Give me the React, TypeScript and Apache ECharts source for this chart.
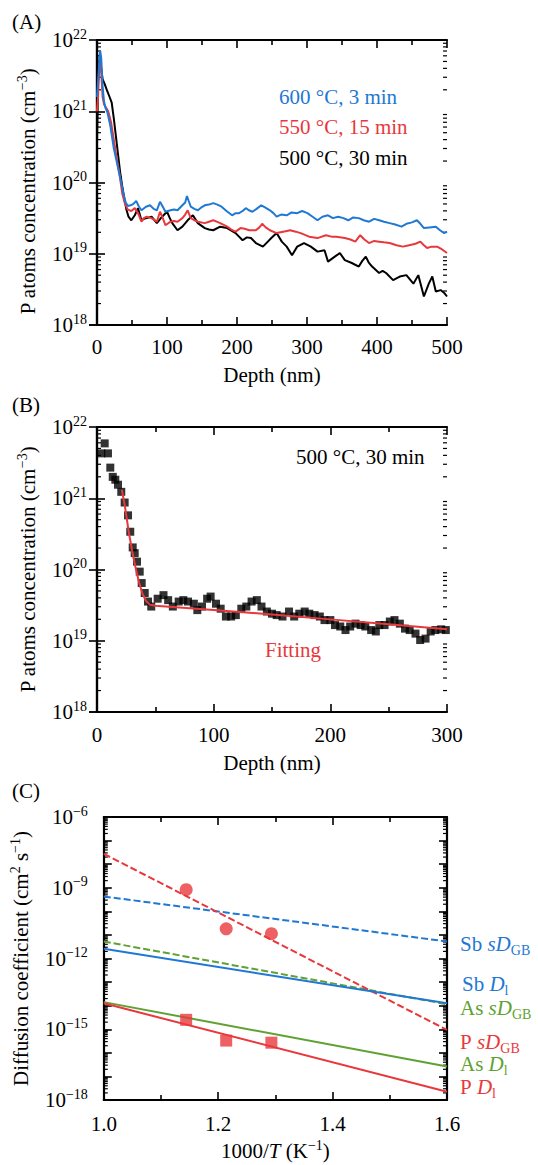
import React, { useEffect, useRef } from 'react';
import * as echarts from 'echarts';

const FONT = 'Liberation Serif';
const BLUE = '#1f78d4';
const RED = '#e8383c';
const GREEN = '#5fa132';

// ---------- Panel A : [depth (nm), log10 concentration (cm^-3)] ----------
const a600: number[][] = [
  [0, 21.2], [2, 21.5], [4.5, 21.85], [6, 21.75], [8, 21.35], [10, 21.14], [12, 21.05], [15, 20.98],
  [19, 20.8], [24, 20.48], [28, 20.3], [31, 20.16], [35, 19.98], [38, 19.83], [41, 19.72], [44, 19.67],
  [48, 19.68], [52, 19.7], [56, 19.74], [60, 19.66], [63.5, 19.61], [70, 19.66], [75.8, 19.68], [81, 19.63],
  [85.5, 19.61], [90, 19.73], [94, 19.66], [97.8, 19.59], [105, 19.61], [110, 19.62], [115, 19.61], [122, 19.68],
  [126, 19.72], [128.5, 19.81], [131, 19.74], [134, 19.66], [139, 19.63], [144, 19.61], [149, 19.65], [154, 19.68],
  [160, 19.69], [166, 19.71], [172, 19.69], [178, 19.66], [185, 19.6], [193, 19.54], [198, 19.57], [203, 19.57],
  [208, 19.6], [212.6, 19.64], [217, 19.61], [222, 19.59], [228, 19.63], [234.6, 19.68], [240, 19.65], [247, 19.61],
  [252, 19.57], [256.6, 19.52], [263, 19.55], [271, 19.54], [278, 19.58], [286, 19.57], [293, 19.6], [300.6, 19.57],
  [308, 19.52], [315, 19.47], [322, 19.52], [330, 19.54], [337, 19.5], [344.6, 19.52], [352, 19.5], [359, 19.47],
  [366, 19.51], [374, 19.5], [381, 19.47], [388.6, 19.45], [396, 19.49], [403, 19.47], [410, 19.45], [418, 19.43],
  [426, 19.41], [435, 19.38], [442, 19.42], [450, 19.44], [457, 19.47], [462, 19.42], [467, 19.36], [475, 19.37],
  [484, 19.38], [490, 19.33], [496, 19.29], [500, 19.31],
];

const a550: number[][] = [
  [0, 21.0], [1.5, 21.2], [3, 21.55], [4.5, 21.8], [6, 21.55], [8, 21.2], [10, 21.1], [13, 21.05], [16, 21.0],
  [20, 20.85], [24, 20.6], [28, 20.35], [32, 20.13], [36, 19.85], [40, 19.7], [44, 19.62], [49, 19.6],
  [54, 19.64], [58.6, 19.57], [63.5, 19.45], [67, 19.5], [71, 19.52], [78, 19.5], [85.5, 19.45], [90, 19.59],
  [94, 19.5], [97.8, 19.4], [105, 19.45], [110, 19.46], [115, 19.45], [122, 19.5], [126, 19.55], [129.5, 19.61],
  [134, 19.5], [139, 19.47], [144, 19.45], [154, 19.43], [160, 19.45], [166, 19.47], [171, 19.45], [176, 19.43],
  [186, 19.38], [192, 19.34], [198, 19.31], [205, 19.36], [211, 19.35], [217.5, 19.33], [227, 19.33], [232, 19.37],
  [236, 19.42], [241, 19.37], [247, 19.33], [256.6, 19.29], [266, 19.31], [276, 19.33], [284, 19.31], [291, 19.29],
  [303, 19.24], [315, 19.22], [327, 19.26], [335, 19.24], [342, 19.24], [354, 19.22], [362, 19.2], [369, 19.17],
  [376, 19.26], [382, 19.2], [388.6, 19.15], [396, 19.18], [403, 19.17], [410, 19.16], [418, 19.15], [428, 19.12],
  [437, 19.1], [446, 19.12], [455, 19.14], [462, 19.17], [467, 19.12], [471.6, 19.08], [478, 19.1], [486, 19.1],
  [493, 19.06], [500, 19.01],
];

const a500: number[][] = [
  [0, 20.55], [1.5, 21.4], [4, 21.8], [6, 21.6], [8, 21.45], [11, 21.38], [14, 21.3], [18, 21.2], [21, 21.12],
  [24, 20.9], [27, 20.65], [30, 20.4], [33, 20.15], [36, 19.95], [39, 19.78], [42, 19.62], [45, 19.52], [49, 19.47],
  [54, 19.54], [58.6, 19.64], [63.5, 19.47], [67, 19.49], [71, 19.5], [78, 19.52], [85.5, 19.43], [93, 19.52],
  [100, 19.59], [104, 19.5], [107.5, 19.43], [115, 19.33], [122, 19.38], [129.5, 19.47], [137, 19.54], [144, 19.43],
  [154, 19.36], [160, 19.34], [166, 19.33], [176, 19.38], [186, 19.36], [198, 19.29], [208, 19.19], [214, 19.23],
  [220, 19.22], [227, 19.15], [237, 19.1], [243, 19.16], [249, 19.22], [256.6, 19.29], [264, 19.17], [271, 19.1],
  [278.6, 18.98], [286, 19.1], [295.7, 19.15], [305.5, 19.1], [315, 19.03], [325, 19.05], [330, 18.89], [339.7, 18.96],
  [347, 19.01], [354, 18.91], [364, 18.87], [374, 18.82], [379, 18.9], [384, 18.96], [388, 18.88], [393, 18.82],
  [403, 18.73], [408, 18.76], [413, 18.73], [423, 18.63], [432.5, 18.68], [442, 18.7], [447, 18.64], [452, 18.58],
  [459, 18.7], [463, 18.55], [467, 18.4], [474, 18.58], [479, 18.68], [484, 18.47], [491, 18.49], [496, 18.45],
  [500, 18.4],
];

const labelsA = ['600 °C, 3 min', '550 °C, 15 min', '500 °C, 30 min'];

// ---------- Panel B : [depth (nm), log10 concentration] ----------
const b500: number[][] = [
  [3.7, 21.63], [6.6, 21.77], [9.4, 21.63], [11.4, 21.43], [13.5, 21.3], [15.7, 21.26], [18.0, 21.19],
  [20.8, 21.09], [23.7, 20.94], [26.6, 20.76], [28.5, 20.53], [30.6, 20.31], [32.3, 20.23], [34.3, 20.11],
  [36.6, 19.97], [38.3, 19.81], [40.9, 19.67], [43.7, 19.55], [46.5, 19.48], [52, 19.59], [57, 19.64],
  [61, 19.57], [65, 19.48], [70, 19.55], [74, 19.57], [78, 19.55], [83, 19.52], [86, 19.43], [90, 19.48],
  [94.4, 19.59], [97.4, 19.62], [102, 19.52], [106, 19.45], [110.5, 19.34], [115, 19.34], [119, 19.36],
  [123.7, 19.45], [128, 19.48], [132.5, 19.55], [137, 19.57], [141, 19.48], [145.6, 19.41], [150, 19.38],
  [154, 19.36], [159, 19.34], [164.6, 19.41], [169, 19.34], [173.4, 19.38], [178, 19.41], [182, 19.38],
  [186.5, 19.36], [191, 19.34], [195, 19.29], [200, 19.29], [204, 19.22], [208.5, 19.2], [213, 19.15],
  [217, 19.2], [221.6, 19.24], [226, 19.22], [230, 19.2], [235, 19.15], [239, 19.13], [242, 19.22],
  [246.5, 19.22], [251, 19.27], [255, 19.29], [259.6, 19.24], [264, 19.17], [268, 19.15], [273, 19.1],
  [277, 19.01], [281.6, 19.03], [286, 19.13], [290, 19.15], [295, 19.16], [299, 19.15],
];

const bFit: number[][] = [
  [21.3, 21.12], [24, 20.88], [27, 20.55], [30, 20.27], [33, 20.03], [36, 19.82], [39, 19.66], [42, 19.56],
  [45, 19.51], [50, 19.49], [100, 19.43], [150, 19.37], [200, 19.3], [250, 19.23], [300, 19.16],
];

// ---------- Panel C : [1000/T, log10 D (cm^2 s^-1)] ----------
const cPsDGB: number[][] = [[1.0, -7.56], [1.6, -15.03]];
const cSbsDGB: number[][] = [[1.0, -9.37], [1.6, -11.28]];
const cAssDGB: number[][] = [[1.0, -11.28], [1.6, -13.94]];
const cSbDl: number[][] = [[1.0, -11.59], [1.6, -13.9]];
const cAsDl: number[][] = [[1.0, -13.85], [1.6, -16.58]];
const cPDl: number[][] = [[1.0, -13.9], [1.6, -17.65]];
const cPsDGBPts: number[][] = [[1.144, -9.08], [1.214, -10.74], [1.293, -10.95]];
const cPDlPts: number[][] = [[1.144, -14.6], [1.214, -15.48], [1.293, -15.57]];

const toVal = (arr: number[][]) => arr.map(([x, l]) => [x, Math.pow(10, l)]);

const GRIDS = [
  { left: 97, top: 40, width: 350, height: 285 },
  { left: 97, top: 427, width: 350, height: 285 },
  { left: 97, top: 817, width: 350, height: 283 },
];

const supRich = {
  b: { fontSize: 21, fontFamily: FONT, color: '#000', lineHeight: 26 },
  s: { fontSize: 14, fontFamily: FONT, color: '#000', lineHeight: 14, verticalAlign: 'top' },
  i: { fontSize: 21, fontFamily: FONT, color: '#000', fontStyle: 'italic', lineHeight: 26 },
};

function expLabel(e: number) {
  const es = e < 0 ? '−' + Math.abs(e) : String(e);
  return '{b|10}{s|' + es + '}';
}

function minorTicksLog(xmin: number, xmax: number, e0: number, e1: number) {
  const out: number[][] = [];
  for (let e = e0; e < e1; e++) {
    for (let m = 2; m <= 9; m++) {
      const v = m * Math.pow(10, e);
      out.push([xmin, v, 0]);
      out.push([xmax, v, 1]);
    }
  }
  return out;
}
function minorTicksLin(xmin: number, xmax: number, e0: number, e1: number) {
  const out: number[][] = [];
  for (let e = e0; e < e1; e++) {
    for (let m = 2; m <= 9; m++) {
      const v = e + Math.log10(m);
      out.push([xmin, v, 0]);
      out.push([xmax, v, 1]);
    }
  }
  return out;
}

export default function App() {
  const ref = useRef<HTMLDivElement>(null);
  useEffect(() => {
    if (!ref.current) return;
    const chart = echarts.init(ref.current, null, { renderer: 'svg' });

    const axisLine = { show: true, lineStyle: { color: '#000', width: 2.2 } };
    const labelStyle = { fontSize: 21, fontFamily: FONT, color: '#000' };
    const tick = { show: true, inside: true, length: 8, lineStyle: { color: '#000', width: 1.6 } };

    const xDefs = [
      { min: 0, max: 500, interval: 100, name: 'Depth (nm)', gap: 37, margin: 11, fmt: (v: number) => String(v) },
      { min: 0, max: 300, interval: 100, name: 'Depth (nm)', gap: 38, margin: 12, fmt: (v: number) => String(v) },
      { min: 1.0, max: 1.6, interval: 0.2, name: '1000/{i|T} (K{s|−1})', gap: 38, margin: 13, fmt: (v: number) => v.toFixed(1) },
    ];

    const xAxis: any[] = [];
    xDefs.forEach((d, i) => {
      xAxis.push({
        type: 'value', gridIndex: i, position: 'bottom', min: d.min, max: d.max, interval: d.interval,
        axisLine, splitLine: { show: false }, axisTick: tick,
        minorTick: { show: true, splitNumber: 2, length: 5, lineStyle: { color: '#000', width: 1.6 } },
        axisLabel: { ...labelStyle, margin: d.margin, formatter: d.fmt },
        name: d.name, nameLocation: 'middle', nameGap: d.gap,
        nameTextStyle: { ...labelStyle, lineHeight: 26, rich: supRich },
      });
      xAxis.push({
        type: 'value', gridIndex: i, position: 'top', min: d.min, max: d.max, interval: d.interval,
        axisLine, splitLine: { show: false }, axisTick: tick,
        minorTick: { show: true, splitNumber: 2, length: 5, lineStyle: { color: '#000', width: 1.6 } },
        axisLabel: { show: false },
      });
    });

    const yAxis: any[] = [];
    const concName = 'P atoms concentration (cm{s|−3})';
    [0, 1].forEach((i) => {
      yAxis.push({
        type: 'log', logBase: 10, gridIndex: i, position: 'left', min: 1e18, max: 1e22, splitNumber: 4,
        axisLine, splitLine: { show: false }, axisTick: tick,
        axisLabel: { ...labelStyle, margin: 10, formatter: (v: number) => expLabel(Math.round(Math.log10(v))), rich: supRich },
        name: concName, nameLocation: 'middle', nameGap: 55,
        nameTextStyle: { ...labelStyle, lineHeight: 26, rich: supRich, padding: i === 0 ? [0, 18, 0, 0] : [0, 0, 0, 0] },
      });
      yAxis.push({
        type: 'log', logBase: 10, gridIndex: i, position: 'right', min: 1e18, max: 1e22, splitNumber: 4,
        axisLine, splitLine: { show: false }, axisTick: tick, axisLabel: { show: false },
      });
    });
    // Panel C: value axis in log10 space
    yAxis.push({
      type: 'value', gridIndex: 2, position: 'left', min: -18, max: -6, interval: 1,
      axisLine, splitLine: { show: false }, axisTick: tick,
      axisLabel: { ...labelStyle, margin: 16, formatter: (v: number) => (Math.round(v) % 3 === 0 ? expLabel(Math.round(v)) : ''), rich: supRich },
      name: 'Diffusion coefficient (cm{s|2} s{s|−1})', nameLocation: 'middle', nameGap: 62,
      nameTextStyle: { ...labelStyle, lineHeight: 26, rich: supRich },
    });
    yAxis.push({
      type: 'value', gridIndex: 2, position: 'right', min: -18, max: -6, interval: 1,
      axisLine, splitLine: { show: false }, axisTick: tick, axisLabel: { show: false },
    });

    const minorSeries = (gi: number, data: number[][]) => ({
      type: 'custom', xAxisIndex: gi * 2, yAxisIndex: gi * 2, silent: true, clip: false,
      data,
      renderItem: (_p: any, api: any) => {
        const pt = api.coord([api.value(0), api.value(1)]);
        const dx = api.value(2) === 0 ? 4 : -4;
        return { type: 'line', shape: { x1: pt[0], y1: pt[1], x2: pt[0] + dx, y2: pt[1] }, style: { stroke: '#000', lineWidth: 1.2 } };
      },
    });

    const line = (data: number[][], color: string, xi: number, dashed = false, log = true) => ({
      type: 'line', xAxisIndex: xi, yAxisIndex: xi, data: log ? toVal(data) : data, showSymbol: false, symbol: 'none',
      lineStyle: { color, width: 2, type: dashed ? [7, 3] : 'solid' }, z: 3,
    });

    const series: any[] = [
      line(a500, '#000', 0), line(a550, RED, 0), line(a600, BLUE, 0),
      {
        type: 'scatter', xAxisIndex: 2, yAxisIndex: 2, data: toVal(b500), symbol: 'rect', symbolSize: 8,
        itemStyle: { color: '#000' }, z: 2,
      },
      { ...line(bFit, RED, 2), z: 4 },
      line(cSbsDGB, BLUE, 4, true, false), line(cAssDGB, GREEN, 4, true, false), line(cPsDGB, RED, 4, true, false),
      line(cSbDl, BLUE, 4, false, false), line(cAsDl, GREEN, 4, false, false), line(cPDl, RED, 4, false, false),
      { type: 'scatter', xAxisIndex: 4, yAxisIndex: 4, data: cPsDGBPts, symbol: 'circle', symbolSize: 13, itemStyle: { color: RED }, z: 5 },
      { type: 'scatter', xAxisIndex: 4, yAxisIndex: 4, data: cPDlPts, symbol: 'rect', symbolSize: 12, itemStyle: { color: RED }, z: 5 },
      minorSeries(0, minorTicksLog(0, 500, 18, 22)),
      minorSeries(1, minorTicksLog(0, 300, 18, 22)),
      minorSeries(2, minorTicksLin(1.0, 1.6, -18, -6)),
    ];

    const txt = (x: number, y: number, text: string, fill: string, rich?: any, lh = 26) => ({
      type: 'text', x, y, z: 10,
      style: { text, fill, fontSize: 21, fontFamily: FONT, verticalAlign: 'middle', align: 'left', lineHeight: lh, rich },
    });
    const subRich = (fill: string) => ({
      i: { fontSize: 21, fontFamily: FONT, fontStyle: 'italic', fill, lineHeight: 24 },
      sub: { fontSize: 14, fontFamily: FONT, fill, lineHeight: 14, padding: [12, 0, 0, 0] },
    });

    const graphic: any[] = [
      txt(12, 22, '(A)', '#000'),
      txt(12, 405, '(B)', '#000'),
      txt(12, 791, '(C)', '#000'),
      txt(279, 97, labelsA[0], BLUE),
      txt(279, 127, labelsA[1], RED),
      txt(279, 158, labelsA[2], '#000'),
      txt(296, 457, '500 °C, 30 min', '#000'),
      txt(265, 650, 'Fitting', RED),
      txt(460, 944, 'Sb {i|sD}{sub|GB}', BLUE, subRich(BLUE), 24),
      txt(462, 984, 'Sb {i|D}{sub|l}', BLUE, subRich(BLUE), 24),
      txt(460, 1008, 'As {i|sD}{sub|GB}', GREEN, subRich(GREEN), 24),
      txt(460, 1042, 'P {i|sD}{sub|GB}', RED, subRich(RED), 24),
      txt(460, 1064, 'As {i|D}{sub|l}', GREEN, subRich(GREEN), 24),
      txt(460, 1087, 'P {i|D}{sub|l}', RED, subRich(RED), 24),
    ];

    chart.setOption({
      animation: false,
      backgroundColor: '#fff',
      grid: GRIDS,
      xAxis,
      yAxis,
      series,
      graphic,
    });
    return () => chart.dispose();
  }, []);

  return <div ref={ref} style={{ position: 'absolute', left: 0, top: 0, width: 538, height: 1165 }} />;
}
